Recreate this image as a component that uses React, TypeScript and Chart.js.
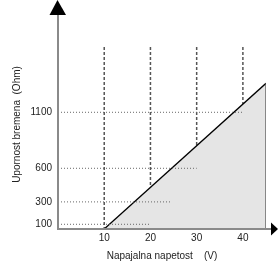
import React, { useEffect, useRef } from "react";
import { Chart, registerables } from "chart.js";

Chart.register(...registerables);

// Axis ticks
const xTicks = [10, 20, 30, 40];
const yTicks = [100, 300, 600, 1100];

// Scale ranges
const xMin = 0;
const xMax = 45;
const yMin = 58;
const yMax = 1924;

// Load line (triangle) : voltage -> resistance
const loadX = [10, 45, 45];
const loadY = [58, 1359, 58];

// Vertical dashed guide lines: top value and where they stop (at the load line)
const vGridTop = 1683;
const vGridEnd = [58, 430, 801, 1173];

// Horizontal dotted guide lines: right end (voltage) for each resistance tick
const hGridEnd = [20, 24.5, 30, 40];

const xTitle = "Napajalna napetost    (V)";
const yTitle = "Upornost bremena  (Ohm)";

const FONT = "'Liberation Sans', Arial, sans-serif";

const axesPlugin = {
  id: "axesArrows",
  afterDraw(chart: any) {
    const { ctx, chartArea } = chart;
    const left = chartArea.left;
    const bottom = chartArea.bottom;
    ctx.save();
    ctx.strokeStyle = "#8a8a8a";
    ctx.lineWidth = 2;
    ctx.beginPath();
    ctx.moveTo(left, 14);
    ctx.lineTo(left, bottom + 1);
    ctx.moveTo(left - 1, bottom);
    ctx.lineTo(272, bottom);
    ctx.stroke();
    ctx.fillStyle = "#000";
    ctx.beginPath();
    ctx.moveTo(left - 8.5, 15);
    ctx.lineTo(left + 8, 15);
    ctx.lineTo(left - 0.5, 0);
    ctx.closePath();
    ctx.fill();
    ctx.beginPath();
    ctx.moveTo(271, bottom - 6.5);
    ctx.lineTo(271, bottom + 6.5);
    ctx.lineTo(278, bottom);
    ctx.closePath();
    ctx.fill();
    ctx.restore();
  },
};

export default function App() {
  const ref = useRef<HTMLCanvasElement | null>(null);

  useEffect(() => {
    if (!ref.current) return;

    const vDatasets = xTicks.map((x, i) => ({
      data: [
        { x, y: vGridTop },
        { x, y: vGridEnd[i] },
      ],
      borderColor: "#555",
      borderWidth: 1.5,
      borderDash: [3, 2],
      pointRadius: 0,
      fill: false,
      order: 3,
    }));

    const hDatasets = yTicks.map((y, i) => ({
      data: [
        { x: xMin, y },
        { x: hGridEnd[i], y },
      ],
      borderColor: "#666",
      borderWidth: 1,
      borderDash: [1, 2],
      pointRadius: 0,
      fill: false,
      order: 1,
    }));

    const loadDataset = {
      data: loadX.map((x, i) => ({ x, y: loadY[i] })),
      borderColor: "#000",
      borderWidth: 1.3,
      backgroundColor: "#e5e5e5",
      fill: "start",
      pointRadius: 0,
      segment: {
        borderColor: (c: any) => (c.p0DataIndex === 0 ? "#000" : "#555"),
      },
      order: 2,
    };

    const chart = new Chart(ref.current, {
      type: "line",
      data: {
        datasets: [...hDatasets, loadDataset, ...vDatasets] as any,
      },
      options: {
        animation: false,
        responsive: false,
        layout: { padding: { top: 20, right: 12, left: 0, bottom: 0 } },
        plugins: {
          legend: { display: false },
          tooltip: { enabled: false },
        },
        scales: {
          x: {
            type: "linear",
            min: xMin,
            max: xMax,
            grid: { display: false, drawTicks: false, tickLength: 0 },
            border: { display: false },
            afterBuildTicks: (s: any) => {
              s.ticks = xTicks.map((v) => ({ value: v }));
            },
            afterFit: (s: any) => {
              s.height = 35;
            },
            ticks: {
              padding: 3,
              color: "#222",
              font: { family: FONT, size: 10 },
              maxRotation: 0,
              autoSkip: false,
              callback: (v: any) => String(v),
            },
            title: {
              display: true,
              text: xTitle,
              color: "#222",
              font: { family: FONT, size: 10 },
              padding: { top: 0, bottom: 2 },
            },
          },
          y: {
            type: "linear",
            min: yMin,
            max: yMax,
            grid: { display: false, drawTicks: false, tickLength: 0 },
            border: { display: false },
            afterBuildTicks: (s: any) => {
              s.ticks = yTicks.map((v) => ({ value: v }));
            },
            afterFit: (s: any) => {
              s.width = 58;
            },
            ticks: {
              padding: 6,
              color: "#222",
              font: { family: FONT, size: 10 },
              autoSkip: false,
              callback: (v: any) => String(v),
            },
            title: {
              display: true,
              text: yTitle,
              color: "#222",
              font: { family: FONT, size: 10 },
              padding: { top: 11, bottom: 0 },
            },
          },
        },
      } as any,
      plugins: [axesPlugin],
    });

    return () => chart.destroy();
  }, []);

  return (
    <div
      style={{
        position: "fixed",
        left: 0,
        top: 0,
        width: 278,
        height: 264,
        background: "#fff",
      }}
    >
      <canvas ref={ref} width={278} height={264} />
    </div>
  );
}
